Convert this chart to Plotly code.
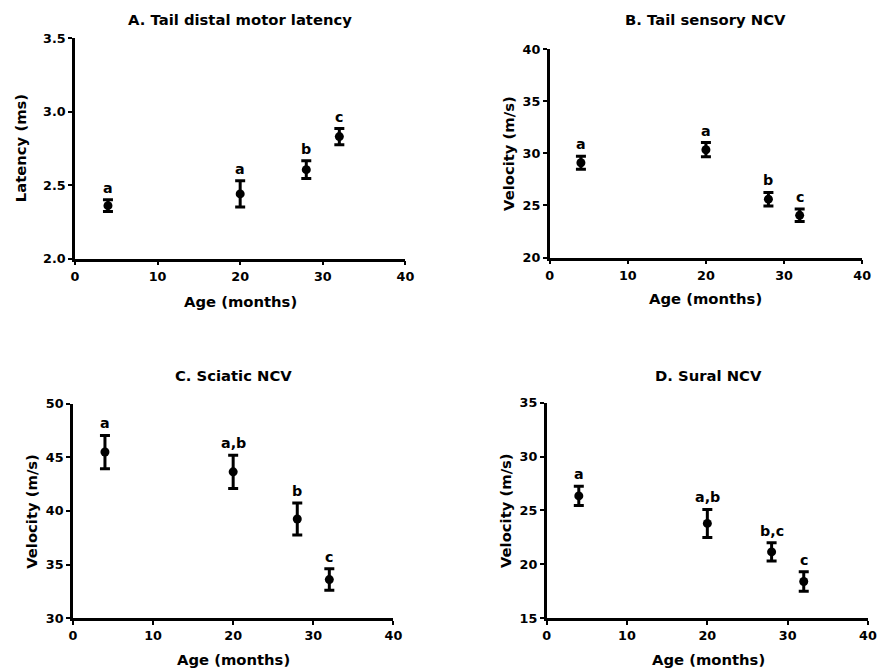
import plotly.graph_objects as go

W, H = 877, 672

age = [4, 20, 28, 32]

# Panel A: Tail distal motor latency (ms)
a_mean = [2.36, 2.44, 2.605, 2.83]
a_err = [0.04, 0.09, 0.06, 0.055]
a_lbl = ["a", "a", "b", "c"]

# Panel B: Tail sensory NCV (m/s)
b_mean = [29.1, 30.35, 25.6, 24.05]
b_err = [0.62, 0.68, 0.65, 0.6]
b_lbl = ["a", "a", "b", "c"]

# Panel C: Sciatic NCV (m/s)
c_mean = [45.5, 43.65, 39.25, 33.6]
c_err = [1.55, 1.55, 1.5, 1.0]
c_lbl = ["a", "a,b", "b", "c"]

# Panel D: Sural NCV (m/s)
d_mean = [26.35, 23.8, 21.15, 18.4]
d_err = [0.9, 1.3, 0.85, 0.9]
d_lbl = ["a", "a,b", "b,c", "c"]

titles = ["A. Tail distal motor latency", "B. Tail sensory NCV", "C. Sciatic NCV", "D. Sural NCV"]
ytitles = ["Latency (ms)", "Velocity (m/s)", "Velocity (m/s)", "Velocity (m/s)"]
xtitle = "Age (months)"
yranges = [[2.0, 3.5], [20, 40], [30, 50], [15, 35]]
ydticks = [0.5, 5, 5, 5]

FONT = "DejaVu Sans"

# layout in target pixels
boxes = [(74, 404, 39, 259), (548, 860, 50, 258), (72, 392, 404, 618), (545, 868, 403, 618)]
title_y = [20, 20, 376, 376]
xtitle_y = [302, 299, 659, 659]
ytitle_dx = [54, 41, 41, 41]

# empirical screen mapping correction
SX, OX = 0.9836, 3.2
SY, OY = 0.976, 8.9


def fx(px):
    return min(1.0, max(0.0, ((px - OX) / SX) / W))


def fy(py):
    return min(1.0, max(0.0, 1 - ((py - OY) / SY) / H))


FS = 1.02

panels = [(a_mean, a_err, a_lbl), (b_mean, b_err, b_lbl), (c_mean, c_err, c_lbl), (d_mean, d_err, d_lbl)]

fig = go.Figure()
annotations = []
layout = {}
for i, ((m, e, lb), box) in enumerate(zip(panels, boxes)):
    n = "" if i == 0 else str(i + 1)
    xa, ya = "x" + n, "y" + n
    l, r, t, b = box
    fig.add_trace(go.Scatter(
        x=age, y=m, mode="markers", xaxis=xa, yaxis=ya,
        marker=dict(color="black", size=9, symbol="circle"),
        error_y=dict(type="data", array=e, visible=True, color="black", thickness=3, width=5),
        showlegend=False, hoverinfo="skip", cliponaxis=False,
    ))
    for xv, yv, ev, tx in zip(age, m, e, lb):
        annotations.append(dict(x=xv, y=yv + ev, xref=xa, yref=ya, text=tx, showarrow=False,
                                yanchor="bottom", xanchor="center", yshift=2,
                                font=dict(family=FONT, size=14 * FS, color="black", weight="bold")))
    axis_common = dict(showline=True, linecolor="black", linewidth=2.5, ticks="outside",
                       tickwidth=2, ticklen=4, tickcolor="black", showgrid=False, zeroline=False,
                       tickfont=dict(family=FONT, size=12.5 * FS, color="black", weight="bold"))
    layout["xaxis" + n] = dict(domain=[fx(l), fx(r)], range=[0, 40], dtick=10, tick0=0,
                               anchor=ya, **axis_common)
    layout["yaxis" + n] = dict(domain=[fy(b), fy(t)], range=yranges[i], dtick=ydticks[i],
                               tick0=yranges[i][0], anchor=xa, tickformat=".1f" if i == 0 else "d",
                               **axis_common)
    cx = (l + r) / 2
    annotations.append(dict(x=fx(cx), y=fy(title_y[i]), xref="paper", yref="paper",
                            text=titles[i], showarrow=False, xanchor="center", yanchor="middle",
                            font=dict(family=FONT, size=14.5 * FS, color="black", weight="bold")))
    annotations.append(dict(x=fx(cx), y=fy(xtitle_y[i]), xref="paper", yref="paper",
                            text=xtitle, showarrow=False, xanchor="center", yanchor="middle",
                            font=dict(family=FONT, size=14.5 * FS, color="black", weight="bold")))
    annotations.append(dict(x=fx(l - ytitle_dx[i]), y=fy((t + b) / 2), xref="paper", yref="paper",
                            text=ytitles[i], showarrow=False, xanchor="center", yanchor="middle",
                            textangle=-90,
                            font=dict(family=FONT, size=14.5 * FS, color="black", weight="bold")))

fig.update_layout(width=W, height=H, margin=dict(l=0, r=0, t=0, b=0),
                  paper_bgcolor="white", plot_bgcolor="white",
                  annotations=annotations, **layout)
fig.write_html("out.html", config={"displayModeBar": False},
               post_script="document.body.style.margin='0';document.body.style.overflow='hidden';")
